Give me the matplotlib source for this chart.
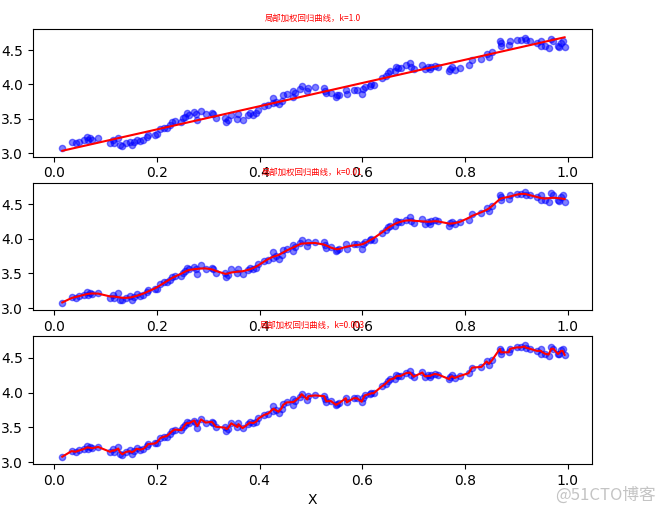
import numpy as np
import matplotlib
matplotlib.use('Agg')
import matplotlib.pyplot as plt

# scatter data (x, y)
xs = [0.016, 0.034, 0.042, 0.049, 0.058, 0.065, 0.067, 0.070, 0.074, 0.086,
      0.109, 0.115, 0.117, 0.125, 0.128, 0.133, 0.140, 0.148, 0.151, 0.156,
      0.161, 0.168, 0.174, 0.180, 0.183, 0.196, 0.200, 0.207, 0.214, 0.219,
      0.225, 0.230, 0.235, 0.248, 0.252, 0.255, 0.258, 0.263, 0.273, 0.276,
      0.279, 0.286, 0.295, 0.307, 0.309, 0.315, 0.333, 0.335, 0.338, 0.345,
      0.357, 0.359, 0.367, 0.378, 0.381, 0.388, 0.394, 0.398, 0.409, 0.417,
      0.427, 0.427, 0.433, 0.437, 0.443, 0.446, 0.453, 0.466, 0.466, 0.469,
      0.482, 0.479, 0.495, 0.493, 0.508, 0.526, 0.528, 0.530, 0.539, 0.549,
      0.551, 0.555, 0.568, 0.570, 0.583, 0.590, 0.599, 0.602, 0.605, 0.615,
      0.618, 0.622, 0.638, 0.646, 0.651, 0.654, 0.663, 0.665, 0.669, 0.675,
      0.685, 0.693, 0.694, 0.700, 0.717, 0.722, 0.728, 0.732, 0.734, 0.741,
      0.748, 0.769, 0.771, 0.775, 0.780, 0.790, 0.807, 0.814, 0.832, 0.842,
      0.847, 0.853, 0.868, 0.870, 0.870, 0.885, 0.888, 0.901, 0.909, 0.916,
      0.918, 0.927, 0.940, 0.948, 0.949, 0.956, 0.963, 0.968, 0.972, 0.981,
      0.983, 0.987, 0.990, 0.994]
ys = [3.08, 3.16, 3.15, 3.17, 3.19, 3.23, 3.19, 3.22, 3.20, 3.22,
      3.15, 3.19, 3.15, 3.22, 3.12, 3.11, 3.15, 3.17, 3.12, 3.16,
      3.20, 3.18, 3.19, 3.23, 3.26, 3.27, 3.28, 3.35, 3.37, 3.37,
      3.41, 3.45, 3.47, 3.46, 3.51, 3.53, 3.58, 3.56, 3.60, 3.57,
      3.49, 3.62, 3.57, 3.58, 3.57, 3.51, 3.51, 3.45, 3.48, 3.56,
      3.50, 3.57, 3.49, 3.55, 3.58, 3.56, 3.58, 3.63, 3.68, 3.70,
      3.81, 3.73, 3.75, 3.71, 3.76, 3.84, 3.86, 3.91, 3.82, 3.88,
      3.98, 3.94, 3.95, 3.90, 3.96, 3.95, 3.91, 3.87, 3.88, 3.82,
      3.84, 3.85, 3.92, 3.86, 3.92, 3.92, 3.86, 3.93, 3.96, 3.98,
      4.00, 3.99, 4.09, 4.13, 4.17, 4.19, 4.19, 4.26, 4.24, 4.24,
      4.28, 4.31, 4.26, 4.23, 4.29, 4.22, 4.25, 4.22, 4.26, 4.27,
      4.26, 4.19, 4.23, 4.25, 4.21, 4.24, 4.28, 4.36, 4.37, 4.45,
      4.40, 4.47, 4.63, 4.60, 4.56, 4.58, 4.63, 4.65, 4.65, 4.68,
      4.64, 4.63, 4.60, 4.63, 4.56, 4.56, 4.53, 4.66, 4.63, 4.56,
      4.55, 4.61, 4.63, 4.54]

ks = [1.0, 0.01, 0.003]
titles = ['局部加权回归曲线，k=1.0', '局部加权回归曲线，k=0.01', '局部加权回归曲线，k=0.003']
ylims = [(2.951, 4.807), (2.967, 4.813), (2.975, 4.809)]


def lwlr(test_x, x, y, k):
    X = np.column_stack([np.ones_like(x), x])
    out = []
    for t in test_x:
        w = np.exp(-(x - t) ** 2 / (2.0 * k ** 2))
        xtwx = X.T @ (X * w[:, None])
        ws = np.linalg.pinv(xtwx) @ (X.T @ (w * y))
        out.append(ws[0] + ws[1] * t)
    return np.array(out)


x = np.array(xs)
y = np.array(ys)
order = np.argsort(x, kind='stable')
xsort = x[order]

fig, axs = plt.subplots(3, 1, figsize=(6.64, 5.13), dpi=100)
fig.subplots_adjust(left=0.049, right=0.892, top=0.9435, bottom=0.0955, hspace=0.204)

for ax, k, t, yl in zip(axs, ks, titles, ylims):
    yhat = lwlr(xsort, x, y, k)
    ax.scatter(x, y, s=20, c='blue', alpha=0.5)
    ax.plot(xsort, yhat, c='red')
    ax.set_title(t, fontsize=6, color='red', family=['Noto Sans CJK SC', 'DejaVu Sans'])
    ax.set_xlim(-0.0419, 1.0479)
    ax.set_ylim(*yl)

axs[2].set_xlabel('X')

fig.text(0.987, 0.018, '@51CTO博客', ha='right', va='bottom', fontsize=12,
         color='#c4c4c4', family=['Noto Sans CJK SC', 'DejaVu Sans'])

fig.savefig('out.png', dpi=100)
